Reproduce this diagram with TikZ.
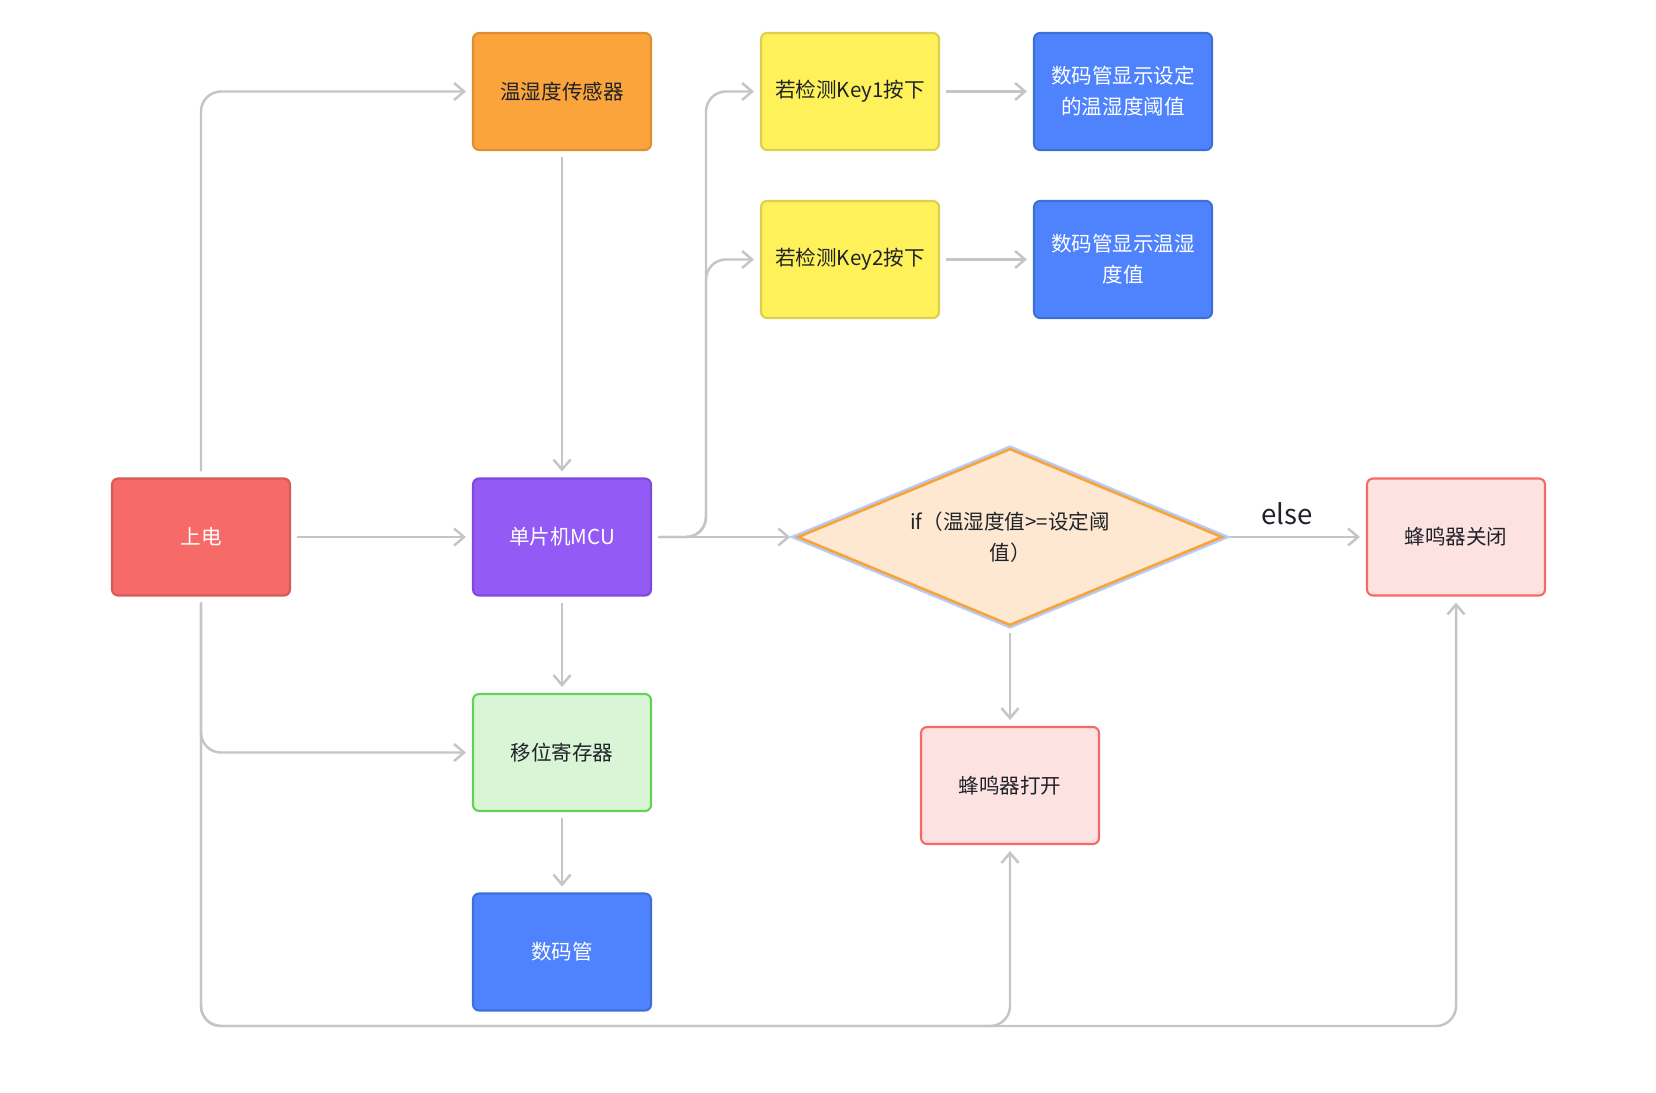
\documentclass[tikz,border=0pt]{standalone}
\usepackage{fontspec}
\setmainfont{Noto Sans CJK SC}
\usetikzlibrary{arrows.meta,shapes.geometric}
\definecolor{linegray}{HTML}{C3C5C9}
\definecolor{txtdark}{HTML}{1F2329}
\definecolor{orfill}{HTML}{FCA43C}
\definecolor{ordraw}{HTML}{E08E34}
\definecolor{yefill}{HTML}{FFF159}
\definecolor{yedraw}{HTML}{DCCF4E}
\definecolor{blfill}{HTML}{4E83FD}
\definecolor{bldraw}{HTML}{3E6FD9}
\definecolor{rdfill}{HTML}{F66B67}
\definecolor{rddraw}{HTML}{D65A57}
\definecolor{pufill}{HTML}{935AF6}
\definecolor{pudraw}{HTML}{7F4ADB}
\definecolor{grfill}{HTML}{D9F5D6}
\definecolor{grdraw}{HTML}{62D256}
\definecolor{pkfill}{HTML}{FDE2E2}
\definecolor{pkdraw}{HTML}{F76965}
\definecolor{diafill}{HTML}{FEE8D2}
\definecolor{diadraw}{HTML}{F9A43A}
\definecolor{diaglow}{HTML}{B6CDFB}
\begin{document}
\begin{tikzpicture}[x=0.02cm,y=-0.02cm,
  box/.style={rectangle,rounded corners=0.12cm,minimum width=3.56cm,minimum height=2.34cm,
    line width=1.2pt,align=center,text=txtdark,font={\fontsize{11.7}{17.6}\selectfont}},
  link/.style={draw=linegray,line width=1.4pt,rounded corners=0.4cm,
    shorten <=0.12cm,shorten >=0.12cm,-{Straight Barb[length=2mm,width=3.4mm]}}]
\useasboundingbox (0,0) rectangle (1656,1092);
\node[box,fill=orfill,draw=ordraw] (sensor) at (562,91.5) {温湿度传感器};
\node[box,fill=yefill,draw=yedraw] (key1) at (850,91.5) {若检测Key1按下};
\node[box,fill=yefill,draw=yedraw] (key2) at (850,259.5) {若检测Key2按下};
\node[box,fill=blfill,draw=bldraw,text=white] (showset) at (1123,91.5) {数码管显示设定\\的温湿度阈值};
\node[box,fill=blfill,draw=bldraw,text=white] (showval) at (1123,259.5) {数码管显示温湿\\度值};
\node[box,fill=rdfill,draw=rddraw,text=white] (pwr) at (201,537) {上电};
\node[box,fill=pufill,draw=pudraw,text=white] (mcu) at (562,537) {单片机MCU};
\node[diamond,fill=diafill,draw=diadraw,line width=1.5pt,preaction={draw=diaglow,line width=4pt},
  shape aspect=2.4,inner sep=0pt,minimum width=8.5cm,minimum height=3.54cm,align=center,
  text=txtdark,font={\fontsize{11.7}{17.6}\selectfont}] (check) at (1010,537) {if（温湿度值>=设定阈\\值）};
\node[box,fill=pkfill,draw=pkdraw] (buzoff) at (1456,537) {蜂鸣器关闭};
\node[box,fill=grfill,draw=grdraw] (shift) at (562,752.5) {移位寄存器};
\node[box,fill=blfill,draw=bldraw,text=white] (digit) at (562,952) {数码管};
\node[box,fill=pkfill,draw=pkdraw] (buzon) at (1010,785.5) {蜂鸣器打开};
\coordinate (fork) at (706,537);
\coordinate (bottom) at (201,1026);
\draw[link] (pwr.north) |- (sensor.west);
\draw[link] (pwr) -- (mcu);
\draw[link] (pwr.south) |- (shift.west);
\draw[link] (pwr.south) -- (bottom) -| (buzon.south);
\draw[link] (pwr.south) -- (bottom) -| (buzoff.south);
\draw[link] (sensor) -- (mcu);
\draw[link] (mcu.east) -- (fork) |- (key1.west);
\draw[link] (mcu.east) -- (fork) |- (key2.west);
\draw[link] (mcu) -- (check);
\draw[link] (key1) -- (showset);
\draw[link] (key2) -- (showval);
\draw[link] (check.east) -- node[midway,yshift=0.46cm,xshift=-0.16cm,text=txtdark,font={\fontsize{15.7}{18}\selectfont}] {else} (buzoff.west);
\draw[link] (check.south) -- (buzon.north);
\draw[link] (mcu) -- (shift);
\draw[link] (shift) -- (digit);
\end{tikzpicture}
\end{document}
